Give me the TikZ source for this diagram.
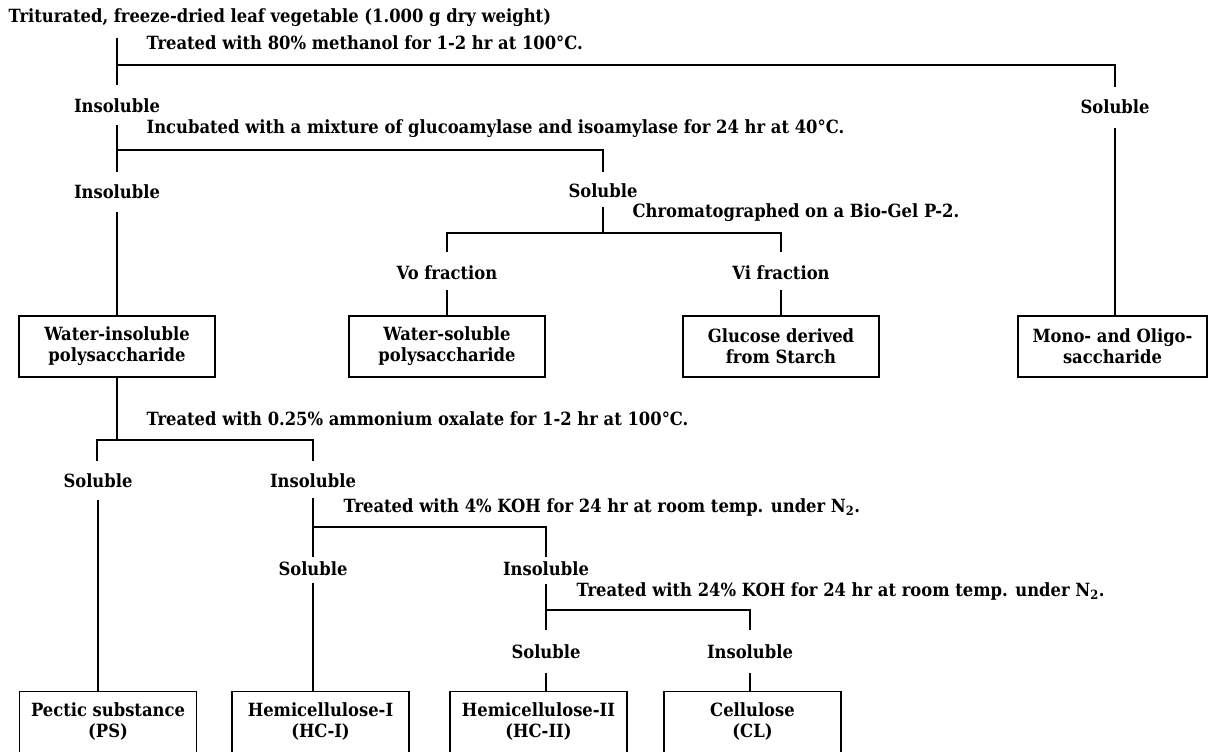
\documentclass[tikz,border=0pt]{standalone}
\usepackage{fontspec}
\newfontfamily\flowfont{DejaVu Serif Condensed}
\begin{document}
\begin{tikzpicture}[x=1pt,y=-1pt,line width=1.3pt,
  lbl/.style={inner sep=0pt,font=\flowfont\bfseries\fontsize{18.2}{21}\selectfont},
  note/.style={lbl,anchor=west},
  box/.style={lbl,draw,line width=1.5pt,minimum width=196pt,minimum height=61pt,align=center},
  bbox/.style={lbl,minimum width=176pt,minimum height=58pt,align=center},
  openbox/.style={line width=1.5pt}]
\useasboundingbox (0,0) rectangle (1208,752);
\clip (0,0) rectangle (1208,752);

% level 0
\node[note] (title) at (8,18) {Triturated, freeze-dried leaf vegetable (1.000 g dry weight)};
\node[note] (t1) at (146,43) {Treated with 80\% methanol for 1-2 hr at 100°C.};
\coordinate (a0) at (117,38);
\coordinate (a1) at (117,65);
\coordinate (a2) at (117,85);
\coordinate (a3) at (1115,65);
\coordinate (a4) at (1115,87);
\draw (a0) -- (a2);
\draw (a1) -- (a3) -- (a4);

% level 1
\node[lbl] (ins1) at (117,106) {Insoluble};
\node[lbl] (sol1) at (1115,107) {Soluble};
\node[note] (t2) at (146,129) {Incubated with a mixture of glucoamylase and isoamylase for 24 hr at 40°C.};
\coordinate (b0) at (117,125);
\coordinate (b1) at (117,150);
\coordinate (b2) at (117,172);
\coordinate (b3) at (603,150);
\coordinate (b4) at (603,172);
\draw (b0) -- (b2);
\draw (b1) -- (b3) -- (b4);

% level 2
\node[lbl] (ins2) at (117,192) {Insoluble};
\node[lbl] (sol2) at (603,191) {Soluble};
\node[note] (t3) at (632,213) {Chromatographed on a Bio-Gel P-2.};
\coordinate (c0) at (603,207);
\coordinate (c1) at (603,233);
\coordinate (c2) at (447,233);
\coordinate (c3) at (781,233);
\coordinate (c4) at (447,252);
\coordinate (c5) at (781,252);
\draw (c0) -- (c1);
\draw (c4) -- (c2) -- (c3) -- (c5);
\node[lbl] (vo) at (447,273) {Vo fraction};
\node[lbl] (vi) at (781,273) {Vi fraction};

% first boxes
\node[box] (wip) at (117,346.5) {Water-insoluble\\polysaccharide};
\node[box] (wsp) at (447,346.5) {Water-soluble\\polysaccharide};
\node[box] (glc) at (781,346.5) {Glucose derived\\from Starch};
\node[box,minimum width=189pt] (mono) at (1112.5,346.5) {Mono- and Oligo-\\saccharide};

\coordinate (d0) at (117,212);
\coordinate (d1) at (447,290);
\coordinate (d2) at (781,290);
\coordinate (d3) at (1115,128);
\draw (d0) -- (wip.north);
\draw (d1) -- (wsp.north);
\draw (d2) -- (glc.north);
\draw (d3) -- (d3 |- mono.north);

% ammonium oxalate
\node[note] (t4) at (146,419) {Treated with 0.25\% ammonium oxalate for 1-2 hr at 100°C.};
\coordinate (e0) at (117,440);
\coordinate (e1) at (97,440);
\coordinate (e2) at (313,440);
\coordinate (e3) at (97,461);
\coordinate (e4) at (313,461);
\draw (wip.south) -- (e0);
\draw (e3) -- (e1) -- (e2) -- (e4);
\node[lbl] (sol3) at (98,481) {Soluble};
\node[lbl] (ins3) at (313,481) {Insoluble};

% 4% KOH
\node[note] (t5) at (343,507) {Treated with 4\% KOH for 24 hr at room temp. under N\textsubscript{2}.};
\coordinate (f0) at (98,500);
\coordinate (g0) at (313,498);
\coordinate (g1) at (313,527);
\coordinate (g2) at (546,527);
\coordinate (g3) at (313,557);
\coordinate (g4) at (546,557);
\draw (g0) -- (g3);
\draw (g1) -- (g2) -- (g4);
\node[lbl] (sol4) at (313,569) {Soluble};
\node[lbl] (ins4) at (546,569) {Insoluble};

% 24% KOH
\node[note] (t6) at (576,591) {Treated with 24\% KOH for 24 hr at room temp. under N\textsubscript{2}.};
\coordinate (h0) at (313,583);
\coordinate (k0) at (546,584);
\coordinate (k1) at (546,610);
\coordinate (k2) at (750,610);
\coordinate (k3) at (546,630);
\coordinate (k4) at (750,630);
\draw (k0) -- (k3);
\draw (k1) -- (k2) -- (k4);
\node[lbl] (sol5) at (546,652) {Soluble};
\node[lbl] (ins5) at (750,652) {Insoluble};
\coordinate (m0) at (546,673);
\coordinate (m1) at (750,673);

% final boxes (open at the bottom edge)
\node[bbox] (ps) at (108,721) {Pectic substance\\(PS)};
\node[bbox] (hc1) at (320.5,721) {Hemicellulose-I\\(HC-I)};
\node[bbox] (hc2) at (538.5,721) {Hemicellulose-II\\(HC-II)};
\node[bbox] (cl) at (752.5,721) {Cellulose\\(CL)};
\foreach \n in {ps,hc1,hc2,cl}{
  \draw[openbox] ([yshift=-20pt]\n.south west) -- (\n.north west) -- (\n.north east) -- ([yshift=-20pt]\n.south east);
}
\draw (f0) -- (f0 |- ps.north);
\draw (h0) -- (h0 |- hc1.north);
\draw (m0) -- (m0 |- hc2.north);
\draw (m1) -- (m1 |- cl.north);
\end{tikzpicture}
\end{document}
